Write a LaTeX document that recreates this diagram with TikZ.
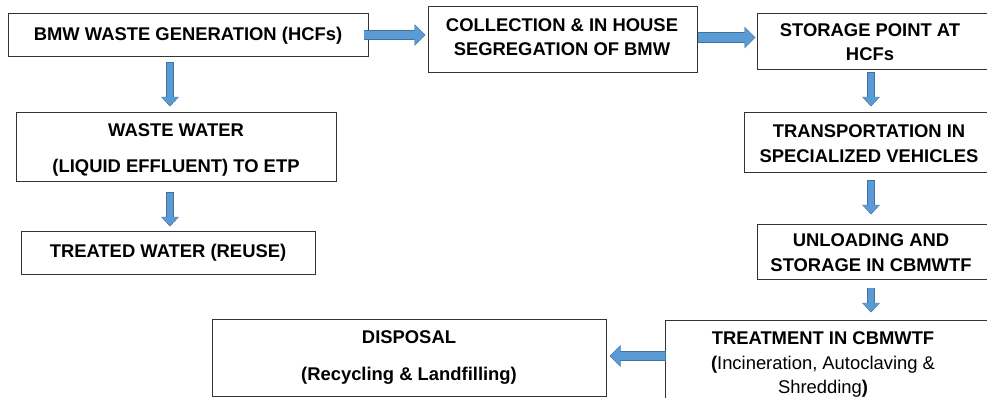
\documentclass[tikz,border=0pt]{standalone}
\usepackage{fontspec}
\setmainfont{Liberation Sans}
\usetikzlibrary{arrows.meta}
\definecolor{arrfill}{HTML}{5B9BD5}
\definecolor{arrline}{HTML}{41719C}
\tikzset{
  box/.style={draw=black!80, line width=1pt, fill=white, inner sep=0pt},
  txt/.style={font=\fontsize{18.4}{24.5}\selectfont\bfseries, align=center, inner sep=0pt},
  harrow/.style={color=arrfill, line width=8.8pt, -{Triangle[length=9.8pt,width=19.4pt]},
    shorten >=1pt, shorten <=0.75pt,
    preaction={draw=arrline, line width=10.4pt, -{Triangle[length=11pt,width=21pt]},
      shorten >=0pt, shorten <=0pt}},
  varrow/.style={color=arrfill, line width=6.6pt, -{Triangle[length=8.4pt,width=15.4pt]},
    shorten >=1pt, shorten <=0.75pt,
    preaction={draw=arrline, line width=8.2pt, -{Triangle[length=9.6pt,width=17.2pt]},
      shorten >=0pt, shorten <=0pt}}
}
\begin{document}
\begin{tikzpicture}[x=1pt,y=-1pt]
\useasboundingbox (0,0) rectangle (987,398);
\clip (0,0) rectangle (987,398);
% left column
\node[box, txt, minimum width=360pt, minimum height=43pt] (gen) at (188,35.5) {BMW WASTE GENERATION (HCFs)};
\node[box, minimum width=320pt, minimum height=69pt] (ww) at (176,147.5) {};
\node[txt] (wwT) at (176,150) {WASTE WATER\\[11.5pt](LIQUID EFFLUENT) TO ETP};
\node[box, txt, minimum width=294pt, minimum height=43pt] (treated) at (168,252.5) {TREATED WATER (REUSE)};
% top row
\node[box, minimum width=269pt, minimum height=66pt] (coll) at (562.5,40) {};
\node[txt] (collT) at (562,37) {COLLECTION \& IN HOUSE\\SEGREGATION OF BMW};
% right column, boxes run past the edge
\node[box, minimum width=243pt, minimum height=55.5pt] (store) at (878.5,41.75) {};
\node[txt] (storeT) at (870,42) {STORAGE POINT AT\\HCFs};
\node[box, minimum width=255.5pt, minimum height=60.5pt] (trans) at (872.25,142.75) {};
\node[txt] (transT) at (869,143.5) {TRANSPORTATION IN\\SPECIALIZED VEHICLES};
\node[box, minimum width=243pt, minimum height=55pt] (unload) at (878.5,251.5) {};
\node[txt] (unloadT) at (871,252.5) {UNLOADING AND\\STORAGE IN CBMWTF};
\node[box, minimum width=335pt, minimum height=89.5pt] (treat) at (832.5,365.25) {};
\node[txt, font=\fontsize{18.4}{24.5}\selectfont] (treatT) at (823,364.5)
  {\textbf{TREATMENT IN CBMWTF}\\\textbf{(}Incineration, Autoclaving \&\\Shredding\textbf{)}};
% bottom
\node[box, txt, minimum width=394pt, minimum height=77pt] (disp) at (409,357.5) {DISPOSAL\\[12.5pt](Recycling \& Landfilling)};

% arrows
\draw[harrow] ([xshift=-5pt,yshift=0.5pt]gen.east) -- ([xshift=-2pt,yshift=5pt]coll.west);
\draw[harrow] ([yshift=2.5pt]coll.east) -- ([xshift=-1pt,yshift=4.25pt]store.west);
\draw[varrow] ([xshift=-18pt,yshift=-5pt]gen.south) -- ([xshift=-6pt,yshift=6pt]ww.north);
\draw[varrow] ([xshift=-6pt,yshift=-10pt]ww.south) -- ([xshift=2pt,yshift=4pt]treated.north);
\draw[varrow] ([xshift=-7.5pt,yshift=-2.5pt]store.south) -- ([xshift=-1.25pt,yshift=5.5pt]trans.north);
\draw[varrow] ([xshift=-1.25pt,yshift=-7pt]trans.south) -- ([xshift=-7.5pt,yshift=9pt]unload.north);
\draw[varrow] ([xshift=-7.5pt,yshift=-8pt]unload.south) -- ([xshift=38.5pt,yshift=7.5pt]treat.north);
\draw[harrow] ([xshift=1pt,yshift=9.25pt]treat.west) -- ([xshift=3pt,yshift=1.5pt]disp.east);
\end{tikzpicture}
\end{document}
